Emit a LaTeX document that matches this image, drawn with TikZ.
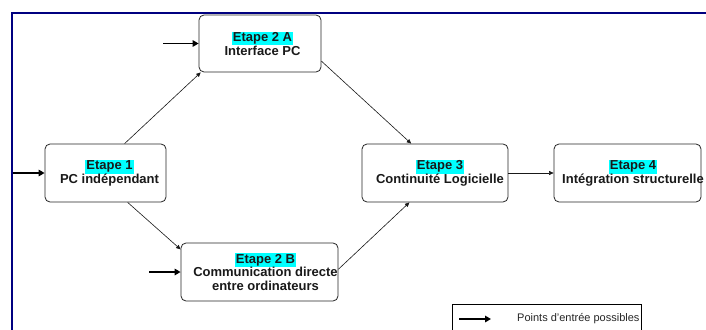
\documentclass[tikz,border=0pt]{standalone}
\usepackage{fontspec}
\setmainfont{Liberation Sans}
\usetikzlibrary{arrows.meta,calc}
\definecolor{hlcyan}{RGB}{0,255,255}
\definecolor{framenavy}{RGB}{0,0,128}
\newcommand\hlt[1]{{\setlength\fboxsep{1pt}\colorbox{hlcyan}{\rule[-2pt]{0pt}{11pt}#1}}}
\begin{document}
\begin{tikzpicture}[x=1pt,y=-1pt,
  box/.style={draw=black!85, line width=0.8pt, rounded corners=5pt, inner sep=0pt},
  txt/.style={font=\fontsize{13}{13.5}\selectfont\bfseries, align=center, inner sep=0pt, text=black!90},
  flow/.style={draw=black!90, line width=0.6pt, -{Triangle[length=4.5pt,width=4pt]}},
  entry/.style={draw=black, line width=1.6pt, -{Triangle[length=6pt,width=6.5pt]}}]
\useasboundingbox (0,0) rectangle (706,329);
\fill[white] (0,0) rectangle (706,329);
% frame
\draw[framenavy, line width=2.2pt] (12,331) -- (12,13) -- (708,13);
% boxes
\node[box, minimum width=122pt, minimum height=57pt] (e2a) at (260,43.5) {};
\node[box, minimum width=121pt, minimum height=58pt] (e1) at (105.5,173) {};
\node[box, minimum width=146pt, minimum height=58pt] (e3) at (435,173) {};
\node[box, minimum width=147pt, minimum height=58pt] (e4) at (627.5,173) {};
\node[box, minimum width=157pt, minimum height=58pt] (e2b) at (259.5,272) {};
% texts
\node[txt] (t2a) at ($(e2a.center)+(2.5,0)$) {\hlt{Etape 2 A}\\Interface PC};
\node[txt] (t1) at ($(e1.center)+(4,0)$) {\hlt{Etape 1}\\PC indépendant};
\node[txt] (t3) at ($(e3.center)+(5,0)$) {\hlt{Etape 3}\\Continuité Logicielle};
\node[txt] (t4) at ($(e4.center)+(5.5,0)$) {\hlt{Etape 4}\\Intégration structurelle};
\node[txt] (t2b) at ($(e2b.center)+(6,0)$) {\hlt{Etape 2 B}\\Communication directe\\entre ordinateurs};
% flow connectors
\draw[flow] (e1.57.5) -- (e2a.206.6);
\draw[flow] (e2a.-16) -- (e3.129.6);
\draw[flow] (e1.-53.4) -- (e2b.164.5);
\draw[flow] (e2b.2.9) -- (e3.229);
\draw[flow] (e3.east) -- (e4.west);
% entry points
\coordinate (in2a) at (163,43.5);
\coordinate (in1) at (13,173);
\coordinate (in2b) at (149,272);
\draw[entry] (in2a) -- (e2a.west);
\draw[entry] (in1) -- (e1.west);
\draw[entry] (in2b) -- (e2b.west);
% legend
\node[draw=black, line width=0.8pt, minimum width=189pt, minimum height=40pt, anchor=north west, inner sep=0pt] (leg) at (452,304) {};
\coordinate (lga) at (459,319);
\coordinate (lgb) at (491,319);
\draw[entry] (lga) -- (lgb);
\node[font=\fontsize{11}{13}\selectfont, anchor=west, inner sep=0pt, text=black!85] (legt) at (517,319) {Points d'entrée possibles};
\end{tikzpicture}
\end{document}
